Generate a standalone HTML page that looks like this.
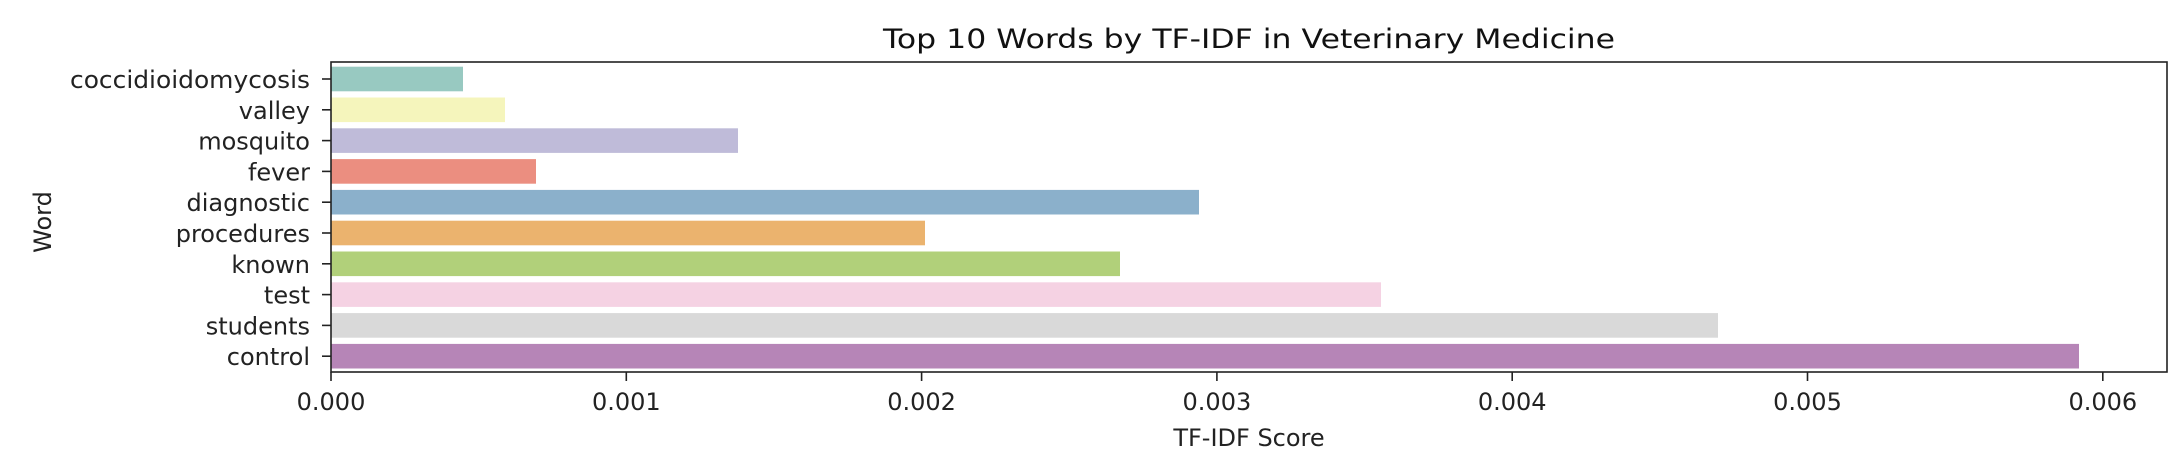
<!DOCTYPE html>
<html><head><meta charset="utf-8"><style>
html,body{margin:0;padding:0;background:#fff;}
svg{display:block;font-family:"DejaVu Sans","Liberation Sans",sans-serif;}
</style></head><body>
<svg width="2172" height="462" viewBox="0 0 2172 462" xmlns="http://www.w3.org/2000/svg">
<rect width="2172" height="462" fill="#fff"/>
<text x="1249" y="48" font-size="27" text-anchor="middle" fill="#111" textLength="732" lengthAdjust="spacingAndGlyphs">Top 10 Words by TF-IDF in Veterinary Medicine</text>
<g>
<rect x="331" y="66.7" width="132" height="24.6" fill="#98c9c1"/>
<rect x="331" y="97.5" width="174" height="24.6" fill="#f5f5bc"/>
<rect x="331" y="128.3" width="407" height="24.6" fill="#bfbbd9"/>
<rect x="331" y="159.1" width="205" height="24.6" fill="#eb8e80"/>
<rect x="331" y="189.9" width="868" height="24.6" fill="#8bb0cb"/>
<rect x="331" y="220.7" width="594" height="24.6" fill="#ebb36e"/>
<rect x="331" y="251.5" width="789" height="24.6" fill="#b1d07a"/>
<rect x="331" y="282.3" width="1050" height="24.6" fill="#f5d2e3"/>
<rect x="331" y="313.1" width="1387" height="24.6" fill="#d9d9d9"/>
<rect x="331" y="343.9" width="1748" height="24.6" fill="#b685b7"/>
</g>
<rect x="331" y="62" width="1836" height="310" fill="none" stroke="#222" stroke-width="1.6"/>
<g stroke="#222" stroke-width="1.6">
<line x1="322" y1="79" x2="331" y2="79"/><line x1="322" y1="109.8" x2="331" y2="109.8"/>
<line x1="322" y1="140.6" x2="331" y2="140.6"/><line x1="322" y1="171.4" x2="331" y2="171.4"/>
<line x1="322" y1="202.2" x2="331" y2="202.2"/><line x1="322" y1="233" x2="331" y2="233"/>
<line x1="322" y1="263.8" x2="331" y2="263.8"/><line x1="322" y1="294.6" x2="331" y2="294.6"/>
<line x1="322" y1="325.4" x2="331" y2="325.4"/><line x1="322" y1="356.2" x2="331" y2="356.2"/>
<line x1="331" y1="372" x2="331" y2="381"/><line x1="626.3" y1="372" x2="626.3" y2="381"/>
<line x1="921.6" y1="372" x2="921.6" y2="381"/><line x1="1216.9" y1="372" x2="1216.9" y2="381"/>
<line x1="1512.2" y1="372" x2="1512.2" y2="381"/><line x1="1807.5" y1="372" x2="1807.5" y2="381"/>
<line x1="2102.8" y1="372" x2="2102.8" y2="381"/>
</g>
<g font-size="24" fill="#222" text-anchor="end">
<text x="310" y="88" textLength="240" lengthAdjust="spacingAndGlyphs">coccidioidomycosis</text>
<text x="310" y="118.8">valley</text>
<text x="310" y="149.6">mosquito</text>
<text x="310" y="180.4">fever</text>
<text x="310" y="211.2">diagnostic</text>
<text x="310" y="242">procedures</text>
<text x="310" y="272.8">known</text>
<text x="310" y="303.6">test</text>
<text x="310" y="334.4">students</text>
<text x="310" y="365.2">control</text>
</g>
<g font-size="24" fill="#222" text-anchor="middle">
<text x="331" y="410">0.000</text>
<text x="626.3" y="410">0.001</text>
<text x="921.6" y="410">0.002</text>
<text x="1216.9" y="410">0.003</text>
<text x="1512.2" y="410">0.004</text>
<text x="1807.5" y="410">0.005</text>
<text x="2102.8" y="410">0.006</text>
<text x="1249" y="446">TF-IDF Score</text>
<text x="0" y="0" transform="translate(51,222) rotate(-90)">Word</text>
</g>
</svg>
</body></html>
